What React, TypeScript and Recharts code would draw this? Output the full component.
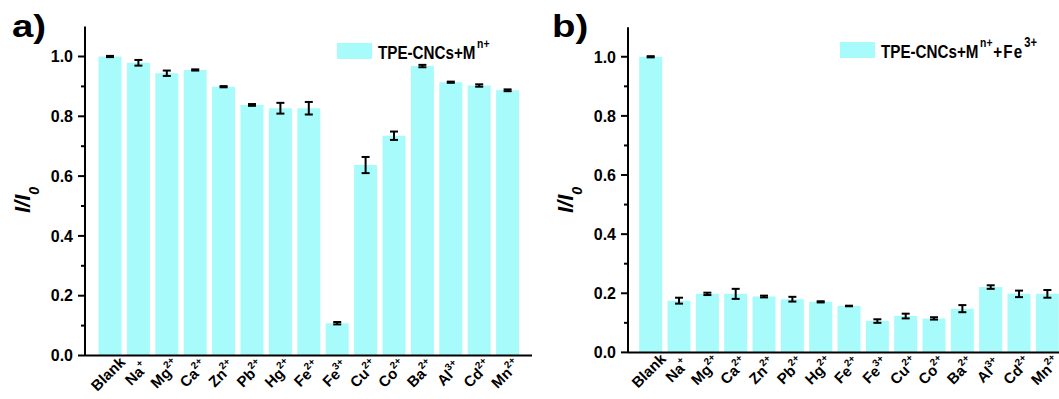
import React from 'react';
import { BarChart, Bar, XAxis, YAxis, ErrorBar } from 'recharts';

const ions = ['Blank', 'Na', 'Mg', 'Ca', 'Zn', 'Pb', 'Hg', 'Fe', 'Fe', 'Cu', 'Co', 'Ba', 'Al', 'Cd', 'Mn'];
const charges = ['', '+', '2+', '2+', '2+', '2+', '2+', '2+', '3+', '2+', '2+', '2+', '3+', '2+', '2+'];
const ratioA = [1.0, 0.979, 0.944, 0.955, 0.899, 0.838, 0.827, 0.827, 0.108, 0.637, 0.735, 0.968, 0.914, 0.903, 0.887];
const errA = [0.002, 0.0095, 0.009, 0.002, 0.002, 0.003, 0.018, 0.021, 0.004, 0.027, 0.014, 0.004, 0.002, 0.004, 0.003];
const ratioB = [1.0, 0.175, 0.198, 0.198, 0.189, 0.18, 0.171, 0.157, 0.106, 0.123, 0.115, 0.148, 0.221, 0.198, 0.198];
const errB = [0.002, 0.01, 0.004, 0.017, 0.003, 0.008, 0.002, 0.001, 0.006, 0.008, 0.004, 0.012, 0.006, 0.011, 0.013];
const yTicks = [0, 0.1, 0.2, 0.3, 0.4, 0.5, 0.6, 0.7, 0.8, 0.9, 1.0];
const yDomain = [0, 1.1];
const seriesA = { main: 'TPE-CNCs+M', sup: 'n+', tail: '', tailSup: '' };
const seriesB = { main: 'TPE-CNCs+M', sup: 'n+', tail: '+Fe', tailSup: '3+' };

const ids = ions.map((ion, i) => ion + charges[i]);
const dataA = ids.map((id, i) => ({ id, value: ratioA[i], err: errA[i] }));
const dataB = ids.map((id, i) => ({ id, value: ratioB[i], err: errB[i] }));

const FONT = '"Liberation Sans", Arial, Helvetica, sans-serif';
const BAR = '#a8fbfb';

const renderXTick = (props: any) => {
  const { x, y, payload } = props;
  const i = ids.indexOf(payload.value);
  const px = Number(x) + 2;
  const py = Number(y) + 22;
  return (
    <g key={payload.value} transform={`translate(${px},${py}) rotate(-45)`}>
      <text x={0} y={0} textAnchor="middle" fontFamily={FONT} fontWeight="bold" fontSize={15} fill="#000">
        {ions[i]}
        {charges[i] ? (
          <tspan dy={-7} fontSize={10}>
            {charges[i]}
          </tspan>
        ) : null}
      </text>
    </g>
  );
};

const renderYTick = (props: any) => {
  const { x, y, payload } = props;
  const v = payload.value as number;
  const major = Math.round(v * 10) % 2 === 0;
  return (
    <g key={String(v)}>
      <line x1={x - (major ? 7 : 4)} x2={x} y1={y} y2={y} stroke="#000" strokeWidth={2} />
      {major ? (
        <text x={x - 12} y={y} dy="0.36em" textAnchor="end" fontFamily={FONT} fontWeight="bold" fontSize={16} fill="#000">
          {v.toFixed(1)}
        </text>
      ) : null}
    </g>
  );
};

const axisStyle = { stroke: '#000', strokeWidth: 2 };

function Panel({ data, width, margin, padding }: any) {
  return (
    <BarChart width={width} height={399} data={data} margin={margin}>
      <XAxis
        xAxisId="main"
        dataKey="id"
        interval={0}
        height={40}
        tickSize={0}
        tickMargin={0}
        tickLine={false}
        tick={renderXTick}
        axisLine={axisStyle}
        padding={padding}
      />
      <XAxis
        xAxisId="top"
        orientation="top"
        dataKey="id"
        height={0}
        tick={false}
        tickLine={false}
        axisLine={axisStyle}
        padding={padding}
      />
      <YAxis
        yAxisId="left"
        width={60}
        domain={yDomain}
        ticks={yTicks}
        interval={0}
        tickSize={0}
        tickMargin={0}
        tickLine={false}
        tick={renderYTick}
        axisLine={axisStyle}
        allowDataOverflow
      />
      <YAxis
        yAxisId="right"
        orientation="right"
        width={0}
        domain={yDomain}
        tick={false}
        tickLine={false}
        axisLine={axisStyle}
      />
      <Bar xAxisId="main" yAxisId="left" dataKey="value" fill={BAR} barSize={23} isAnimationActive={false}>
        <ErrorBar dataKey="err" direction="y" width={4} strokeWidth={2} stroke="#000" isAnimationActive={false} />
      </Bar>
    </BarChart>
  );
}

function LegendItem({ x, y, s }: any) {
  return (
    <g>
      <rect x={x} y={y} width={35} height={16} fill={BAR} />
      <g transform={`translate(${x + 41},${y + 16}) scale(0.8,1)`}>
        <text fontFamily={FONT} fontWeight="bold" fontSize={19} fill="#000">
          {s.main}
          <tspan dx={2} dy={-11} fontSize={13}>{s.sup}</tspan>
          {s.tail ? <tspan dx={1} dy={11} fontSize={19} letterSpacing={1.5}>{s.tail}</tspan> : null}
          {s.tailSup ? <tspan dx={1} dy={-11} fontSize={14}>{s.tailSup}</tspan> : null}
        </text>
      </g>
    </g>
  );
}

function YTitle({ x }: any) {
  return (
    <text transform={`translate(${x},213) rotate(-90)`} fontFamily={FONT} fontStyle="italic" fontWeight="bold" fontSize={22} fill="#000">
      I/I
      <tspan dy={9} fontSize={14}>0</tspan>
    </text>
  );
}

export default function App() {
  return (
    <div style={{ position: 'absolute', left: 0, top: 0, width: 1059, height: 399, overflow: 'hidden', background: '#fff' }}>
      <div style={{ position: 'absolute', left: 0, top: 0 }}>
        <Panel data={dataA} width={545} margin={{ top: 26.6, right: 13, bottom: 3.5, left: 25 }} padding={{ left: 10.5, right: 10.5 }} />
      </div>
      <div style={{ position: 'absolute', left: 530, top: 0 }}>
        <Panel data={dataB} width={555} margin={{ top: 27.2, right: 13.5, bottom: 6.6, left: 38 }} padding={{ left: 8.2, right: 10.3 }} />
      </div>
      <svg width={1059} height={399} style={{ position: 'absolute', left: 0, top: 0, pointerEvents: 'none' }}>
        <g transform="translate(12,37) scale(1.2,1)">
          <text fontFamily={FONT} fontWeight="bold" fontSize={32} fill="#000">a)</text>
        </g>
        <g transform="translate(552,37) scale(1.2,1)">
          <text fontFamily={FONT} fontWeight="bold" fontSize={32} fill="#000">b)</text>
        </g>
        <YTitle x={30} />
        <YTitle x={573} />
        <LegendItem x={337} y={43} s={seriesA} />
        <LegendItem x={840} y={42} s={seriesB} />
      </svg>
    </div>
  );
}
